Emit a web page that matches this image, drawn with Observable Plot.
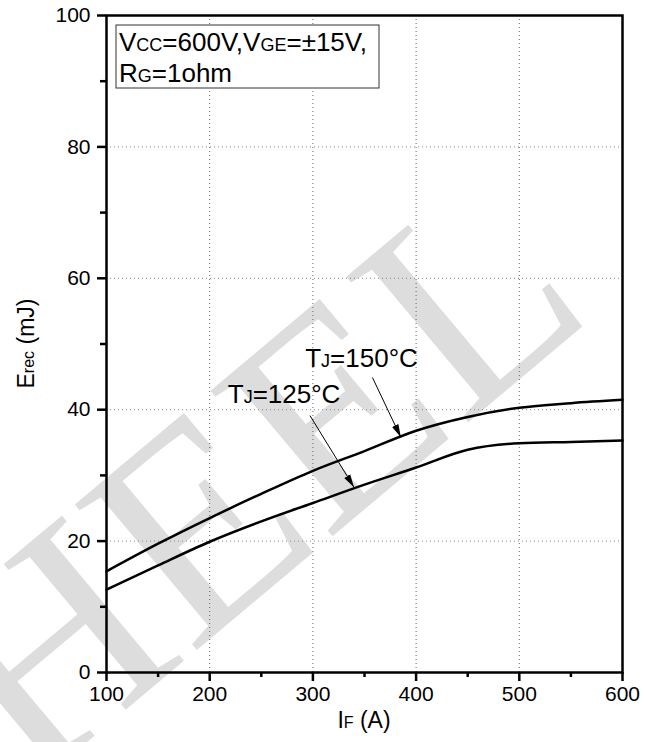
<!DOCTYPE html>
<html><head><meta charset="utf-8">
<script src="https://cdn.jsdelivr.net/npm/d3@7"></script>
<script src="https://cdn.jsdelivr.net/npm/@observablehq/plot@0.6"></script>
<style>body{margin:0;background:#fff} #chart svg{display:block}</style>
</head><body><div id="chart"></div>
<script>
// Data
const current = [100,150,200,250,300,350,400,450,500,550,600];
const erec150 = [15.4,19.6,23.5,27.2,30.7,33.7,36.8,38.9,40.3,41.0,41.5];
const erec125 = [12.6,16.3,19.9,23.0,25.8,28.6,31.2,33.9,34.9,35.1,35.3];
const xMajor = [100,200,300,400,500,600];
const xMinor = [150,250,350,450,550];
const yMajor = [0,20,40,60,80,100];
const yMinor = [10,30,50,70,90];
const xGrid = [200,300,400,500];
const yGrid = [20,40,60,80];
// Annotations (data coordinates)
const annoMain = ["T","T"];
const annoSub = ["J","J"];
const annoRest = ["=150°C","=125°C"];
const annoX = [293,218];
const annoY = [46.4,41.0];
const arrowX1 = [357.7,297.2];
const arrowY1 = [44.9,39.1];
const arrowX2 = [385.2,339.8];
const arrowY2 = [35.8,28.2];

const s150 = current.map((x,i)=>({x, y: erec150[i]}));
const s125 = current.map((x,i)=>({x, y: erec125[i]}));
const arrows = arrowX1.map((x1,i)=>({x1, y1: arrowY1[i], x2: arrowX2[i], y2: arrowY2[i]}));

const FONT = "'Liberation Sans', Arial, sans-serif";
const W = 648, H = 742, ML = 106, MR = 26, MT = 15, MB = 70;

const plot = Plot.plot({
  width: W, height: H,
  marginLeft: ML, marginRight: MR, marginTop: MT, marginBottom: MB,
  style: {fontFamily: FONT, fontSize: "21px", color: "black", background: "white"},
  x: {domain: [100,600]},
  y: {domain: [0,100]},
  marks: [
    Plot.gridX(xGrid, {stroke: "#666", strokeOpacity: 1, strokeDasharray: "1,3", strokeWidth: 1}),
    Plot.gridY(yGrid, {stroke: "#888", strokeOpacity: 1, strokeDasharray: "1,3", strokeWidth: 1}),
    Plot.line(s150, {x: "x", y: "y", curve: "monotone-x", stroke: "black", strokeWidth: 2.5}),
    Plot.line(s125, {x: "x", y: "y", curve: "monotone-x", stroke: "black", strokeWidth: 2.5}),
    Plot.link(arrows, {x1: "x1", y1: "y1", x2: "x2", y2: "y2", stroke: "black", strokeWidth: 1, className: "anno-arrow"}),
    Plot.axisX(xMajor, {tickSize: 9, tickPadding: 5, fontSize: 21, strokeWidth: 2.5, label: null}),
    Plot.axisX(xMinor, {tickSize: 5, tickFormat: () => "", strokeWidth: 2.5, label: null}),
    Plot.axisY(yMajor, {tickSize: 9, tickPadding: 7, fontSize: 21, strokeWidth: 2.5, label: null}),
    Plot.axisY(yMinor, {tickSize: 6, tickFormat: () => "", strokeWidth: 2.5, label: null}),
    Plot.frame({stroke: "black", strokeWidth: 2.5})
  ]
});

const svg = d3.select(plot);
const xs = plot.scale("x"), ys = plot.scale("y");

// watermark beneath everything (clipped to the picture)
svg.append("defs").append("clipPath").attr("id", "wmclip")
  .append("rect").attr("x", 0).attr("y", 0).attr("width", W).attr("height", H);
svg.insert("g", ":first-child").attr("clip-path", "url(#wmclip)")
  .attr("aria-hidden", "true")
  .append("text")
  .attr("transform", "translate(30,790) rotate(-40)")
  .attr("text-anchor", "start")
  .attr("font-family", "'Liberation Serif', 'DejaVu Serif', serif")
  .attr("font-size", 290)
  .attr("fill", "#dddddd")
  .text("HEEL");

// arrowhead marker
svg.append("defs").append("marker")
  .attr("id", "ah").attr("markerUnits", "userSpaceOnUse")
  .attr("markerWidth", 14).attr("markerHeight", 10)
  .attr("viewBox", "0 -5 14 10").attr("refX", 13).attr("refY", 0)
  .attr("orient", "auto")
  .append("path").attr("d", "M0,-3.5L13,0L0,3.5Z").attr("fill", "black");
svg.selectAll(".anno-arrow path, path.anno-arrow, .anno-arrow line").attr("marker-end", "url(#ah)");

// curve labels with subscript
annoX.forEach((x, i) => {
  const t = svg.append("text")
    .attr("x", xs.apply(x)).attr("y", ys.apply(annoY[i]))
    .attr("text-anchor", "start")
    .attr("font-family", FONT).attr("font-size", 26).attr("fill", "black");
  t.append("tspan").text(annoMain[i]);
  t.append("tspan").attr("font-size", 18).text(annoSub[i]);
  t.append("tspan").text(annoRest[i]);
});

// axis labels
const xl = svg.append("text")
  .attr("x", (ML + W - MR) / 2).attr("y", 728)
  .attr("text-anchor", "middle").attr("font-family", FONT).attr("font-size", 23);
xl.append("tspan").text("I");
xl.append("tspan").attr("font-size", 16).text("F");
xl.append("tspan").text(" (A)");

const yl = svg.append("text")
  .attr("transform", `translate(34,${(MT + H - MB) / 2}) rotate(-90)`)
  .attr("text-anchor", "middle").attr("font-family", FONT).attr("font-size", 23);
yl.append("tspan").text("E");
yl.append("tspan").attr("font-size", 16).text("rec");
yl.append("tspan").text(" (mJ)");

// condition box
const g = svg.append("g");
g.append("rect").attr("x", 116).attr("y", 25).attr("width", 263).attr("height", 63)
  .attr("fill", "white").attr("stroke", "#333").attr("stroke-width", 1);
const l1 = g.append("text").attr("x", 119).attr("y", 51).attr("text-anchor", "start")
  .attr("font-family", FONT).attr("font-size", 26);
l1.append("tspan").text("V");
l1.append("tspan").attr("font-size", 18).text("CC");
l1.append("tspan").text("=600V,V");
l1.append("tspan").attr("font-size", 18).text("GE");
l1.append("tspan").text("=\u00B115V,");
const l2 = g.append("text").attr("x", 119).attr("y", 82).attr("text-anchor", "start")
  .attr("font-family", FONT).attr("font-size", 26);
l2.append("tspan").text("R");
l2.append("tspan").attr("font-size", 18).text("G");
l2.append("tspan").text("=1ohm");

document.getElementById("chart").appendChild(plot);
</script>
</body></html>
